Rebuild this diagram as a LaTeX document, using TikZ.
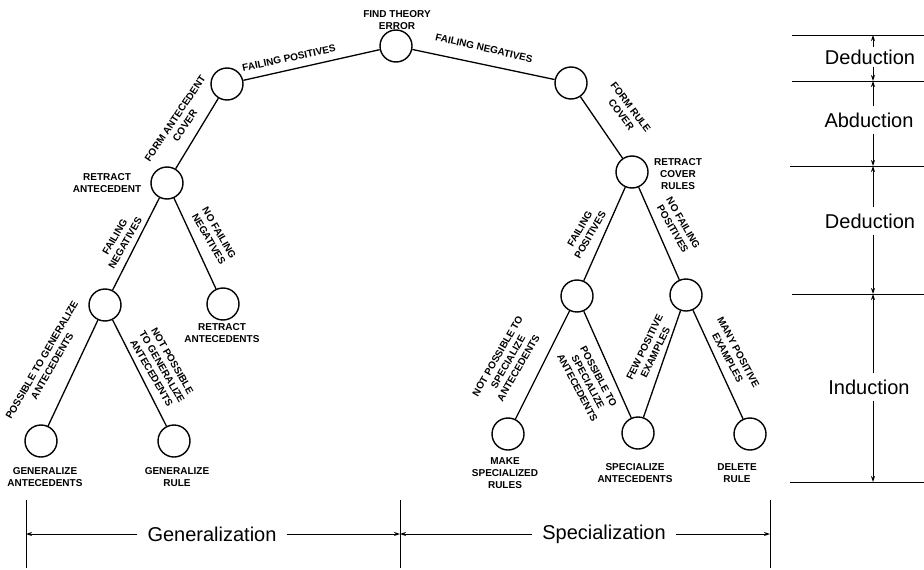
\documentclass[tikz,border=0pt]{standalone}
\usepackage{fontspec}
\setmainfont{Liberation Sans}
\usetikzlibrary{arrows.meta}
\begin{document}
\begin{tikzpicture}[x=1pt,y=-1pt,
  st/.style={circle,draw,line width=1.4pt,minimum size=32pt,inner sep=0pt},
  lbl/.style={font=\bfseries\fontsize{10}{12}\selectfont,align=center,inner sep=0pt},
  big/.style={font=\fontsize{20}{24}\selectfont,inner sep=0pt},
  edge/.style={line width=1.3pt},
  sep/.style={line width=1pt},
  tip/.style={-{Stealth[length=6pt,width=4pt]},line width=0.9pt}]
\fill[white] (0,0) rectangle (924,570);
\useasboundingbox (0,0) rectangle (924,570);
% tree nodes
\node[st] (root) at (396,46) {};
\node[st] (fp) at (227,84) {};
\node[st] (ra) at (167,183) {};
\node[st] (fn) at (571,83) {};
\node[st] (rc) at (632,172) {};
\node[st] (fnl) at (105,305) {};
\node[st] (rants) at (223,304) {};
\node[st] (ga) at (41,441) {};
\node[st] (gr) at (174,441) {};
\node[st] (fpr) at (577,296) {};
\node[st] (nfp) at (686,295) {};
\node[st] (msr) at (508,434) {};
\node[st] (sa) at (638,433) {};
\node[st] (dr) at (750,434) {};
% edges
\draw[edge] (root) -- (fp);
\draw[edge] (root) -- (fn);
\draw[edge] (fp) -- (ra);
\draw[edge] (ra) -- (fnl);
\draw[edge] (ra) -- (rants);
\draw[edge] (fnl) -- (ga);
\draw[edge] (fnl) -- (gr);
\draw[edge] (fn) -- (rc);
\draw[edge] (rc) -- (fpr);
\draw[edge] (rc) -- (nfp);
\draw[edge] (fpr) -- (msr);
\draw[edge] (fpr) -- (sa);
\draw[edge] (nfp) -- (sa);
\draw[edge] (nfp) -- (dr);
% node labels
\node[lbl] (t0) at (397,20) {FIND THEORY\\ERROR};
\node[lbl] (t1) at (107,183) {RETRACT\\ANTECEDENT};
\node[lbl] (t2) at (222,333) {RETRACT\\ANTECEDENTS};
\node[lbl] (t3) at (45,477) {GENERALIZE\\ANTECEDENTS};
\node[lbl] (t4) at (177,477) {GENERALIZE\\RULE};
\node[lbl] (t5) at (678,174) {RETRACT\\COVER\\RULES};
\node[lbl] (t6) at (505,473) {MAKE\\SPECIALIZED\\RULES};
\node[lbl] (t7) at (635,473) {SPECIALIZE\\ANTECEDENTS};
\node[lbl] (t8) at (737,473) {DELETE\\RULE};
% edge labels
\node[lbl,rotate=12] (e1) at (289,58) {FAILING POSITIVES};
\node[lbl,rotate=-13] (e2) at (484,48) {FAILING NEGATIVES};
\node[lbl,rotate=56] (e3) at (180,122) {FORM ANTECEDENT\\COVER};
\node[lbl,rotate=60] (e4) at (120,240) {FAILING\\NEGATIVES};
\node[lbl,rotate=-60] (e5) at (214,236) {NO FAILING\\NEGATIVES};
\node[lbl,rotate=60] (e6) at (47,363) {POSSIBLE TO GENERALIZE\\ANTECEDENTS};
\node[lbl,rotate=-60] (e7) at (162,367) {NOT POSSIBLE\\TO GENERALIZE\\ANTECEDENTS};
\node[lbl,rotate=-53] (e8) at (626,111) {FORM RULE\\COVER};
\node[lbl,rotate=60] (e9) at (585,232) {FAILING\\POSITIVES};
\node[lbl,rotate=-60] (e10) at (678,226) {NO FAILING\\POSITIVES};
\node[lbl,rotate=60] (e11) at (508,362) {NOT POSSIBLE TO\\SPECIALIZE\\ANTECEDENTS};
\node[lbl,rotate=-62] (e12) at (588,382) {POSSIBLE TO\\SPECIALIZE\\ANTECEDENTS};
\node[lbl,rotate=64] (e13) at (650,350) {FEW POSITIVE\\EXAMPLES};
\node[lbl,rotate=-62] (e14) at (733,355) {MANY POSITIVE\\EXAMPLES};
% right scale
\coordinate (la) at (792,35);  \coordinate (ra1) at (924,35);
\coordinate (lb) at (792,81);  \coordinate (rb1) at (924,81);
\coordinate (lc) at (790,166); \coordinate (rc1) at (924,166);
\coordinate (ld) at (792,294); \coordinate (rd1) at (924,294);
\coordinate (le) at (790,482); \coordinate (re1) at (924,482);
\draw[sep] (la) -- (ra1);
\draw[sep] (lb) -- (rb1);
\draw[sep] (lc) -- (rc1);
\draw[sep] (ld) -- (rd1);
\draw[sep] (le) -- (re1);
\coordinate (a1) at (873,35);
\coordinate (a2) at (873,81);
\coordinate (a3) at (873,166);
\coordinate (a4) at (873,294);
\coordinate (a5) at (873,482);
\node[big,inner ysep=2pt] (s1) at (870,57) {Deduction};
\node[big,inner ysep=6pt] (s2) at (869,120) {Abduction};
\node[big,inner ysep=6pt] (s3) at (870,221) {Deduction};
\node[big,inner ysep=6pt] (s4) at (869,387) {Induction};
\draw[tip] (s1.north -| a1) -- (a1);
\draw[tip] (s1.south -| a2) -- (a2);
\draw[tip] (s2.north -| a2) -- (a2);
\draw[tip] (s2.south -| a3) -- (a3);
\draw[tip] (s3.north -| a3) -- (a3);
\draw[tip] (s3.south -| a4) -- (a4);
\draw[tip] (s4.north -| a4) -- (a4);
\draw[tip] (s4.south -| a5) -- (a5);
% bottom scale
\coordinate (v1t) at (26,500);  \coordinate (v1b) at (26,568);
\coordinate (v2t) at (400,500); \coordinate (v2b) at (400,568);
\coordinate (v3t) at (770,500); \coordinate (v3b) at (770,568);
\draw[sep] (v1t) -- (v1b);
\draw[sep] (v2t) -- (v2b);
\draw[sep] (v3t) -- (v3b);
\coordinate (h1) at (26,534);
\coordinate (h2) at (400,534);
\coordinate (h3) at (770,534);
\node[big,inner xsep=10pt] (gen) at (212,534) {Generalization};
\node[big,inner xsep=10pt] (spec) at (604,534) {Specialization};
\draw[tip] (gen.west) -- (h1);
\draw[tip] (gen.east) -- (h2);
\draw[tip] (spec.west) -- (h2);
\draw[tip] (spec.east) -- (h3);
\end{tikzpicture}
\end{document}
